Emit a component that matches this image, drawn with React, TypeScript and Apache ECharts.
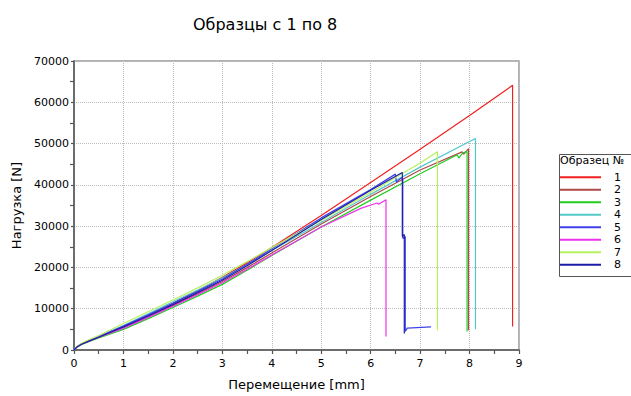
import React, { useEffect, useRef } from "react";
import * as echarts from "echarts";

const titleText = "Образцы с 1 по 8";
const xAxisName = "Перемещение [mm]";
const yAxisName = "Нагрузка [N]";
const legendTitle = "Образец №";

const sampleNames = ["1", "2", "3", "4", "5", "6", "7", "8"];
const sampleColors = ["#f22020", "#b04848", "#22cc22", "#55c8c8", "#4040e8", "#f030f0", "#b8f060", "#1c1ca8"];

const s1 = [[0,0],[0.05,700],[0.15,1500],[0.3,2300],[0.5,3300],[0.75,4500],[1,5700],[1.5,8450],[2,11300],[2.5,14350],[3,17600],[3.5,21100],[4,24800],[5,32600],[6,40600],[7,48600],[8,56800],[8.87,64100],[8.87,5700]];
const s2 = [[0,0],[0.05,650],[0.15,1400],[0.3,2200],[0.5,3100],[0.75,4250],[1,5400],[1.5,8050],[2,10800],[2.5,13650],[3,16600],[3.5,19950],[4,23500],[5,30500],[6,37200],[7,43600],[7.85,48000],[7.88,47400],[7.98,48800],[7.98,4800]];
const s3 = [[0,0],[0.05,600],[0.15,1300],[0.3,2000],[0.5,2900],[0.75,3950],[1,5000],[1.5,7600],[2,10300],[2.5,13050],[3,15900],[3.5,19300],[4,22900],[5,29800],[6,36300],[7,42700],[7.75,47300],[7.78,46500],[7.86,47700],[7.95,48100],[7.95,4500]];
const s4 = [[0,0],[0.05,700],[0.15,1500],[0.3,2300],[0.5,3300],[0.75,4600],[1,5900],[1.5,8750],[2,11700],[2.5,14550],[3,17500],[3.5,20700],[4,24100],[5,30900],[6,37700],[7,44300],[8,50500],[8.12,51200],[8.12,5000]];
const s5 = [[0,0],[0.05,650],[0.15,1450],[0.3,2200],[0.5,3200],[0.75,4500],[1,5800],[1.5,8500],[2,11300],[2.5,14200],[3,17200],[3.5,20750],[4,24500],[5,32000],[6,38900],[6.5,42600],[6.52,40700],[6.62,41700],[6.65,41400],[6.65,27000],[6.7,27500],[6.7,4500],[6.74,5300],[7.22,5600]];
const s6 = [[0,0],[0.05,650],[0.15,1400],[0.3,2150],[0.5,3100],[0.75,4200],[1,5300],[1.5,7900],[2,10600],[2.5,13400],[3,16300],[3.5,19550],[4,23000],[5,29800],[5.8,34300],[6.13,35600],[6.16,35300],[6.31,36400],[6.31,3300]];
const s7 = [[0,0],[0.05,750],[0.15,1600],[0.3,2450],[0.5,3500],[0.75,4950],[1,6400],[1.5,9250],[2,12100],[2.5,15050],[3,18100],[3.5,21400],[4,24800],[5,31400],[6,38200],[7,45300],[7.35,48000],[7.35,4800]];
const s8 = [[0,0],[0.05,650],[0.15,1400],[0.3,2150],[0.5,3100],[0.75,4350],[1,5600],[1.5,8250],[2,11000],[2.5,13900],[3,16900],[3.5,20400],[4,24100],[5,31600],[6,38700],[6.64,43000],[6.64,27500],[6.68,28000],[6.68,4000]];
const sampleData = [s1, s2, s3, s4, s5, s6, s7, s8];

const xMin = 0, xMax = 9, xInterval = 1;
const yMin = 0, yMax = 70000, yInterval = 10000;

const FONT = "DejaVu Sans";

export default function App() {
  const ref = useRef<HTMLDivElement>(null);
  useEffect(() => {
    if (!ref.current) return;
    const chart = echarts.init(ref.current, undefined, { renderer: "svg" });
    const axisCommon = {
      axisLine: { show: true, onZero: false, lineStyle: { color: "#555", width: 1.5 } },
      axisTick: { show: true, length: 4, lineStyle: { color: "#555", width: 1.2 } },
      minorTick: { show: true, splitNumber: 2, length: 4, lineStyle: { color: "#555", width: 1.2 } },
      splitLine: { show: true, lineStyle: { color: "#bdbdbd", type: "dotted", width: 1 } },
      axisLabel: { color: "#000", fontFamily: FONT, fontSize: 11, formatter: (v: number) => String(v) },
      nameTextStyle: { color: "#000", fontFamily: FONT, fontSize: 13 },
      nameLocation: "middle" as const,
    };
    chart.setOption({
      animation: false,
      backgroundColor: "#fff",
      title: {
        text: titleText,
        left: 188,
        top: 11,
        textStyle: { color: "#000", fontFamily: FONT, fontSize: 16, fontWeight: "normal" },
      },
      grid: {
        left: 74,
        right: 112,
        top: 61,
        bottom: 41,
        show: true,
        borderColor: "#999",
        borderWidth: 1.5,
        containLabel: false,
      },
      xAxis: {
        type: "value",
        min: xMin,
        max: xMax,
        interval: xInterval,
        name: xAxisName,
        nameGap: 28,
        ...axisCommon,
        axisLabel: { ...axisCommon.axisLabel, margin: 8 },
      },
      yAxis: {
        type: "value",
        min: yMin,
        max: yMax,
        interval: yInterval,
        name: yAxisName,
        nameGap: 47,
        nameRotate: 90,
        ...axisCommon,
        axisTick: { ...axisCommon.axisTick, length: 3 },
        axisLabel: { ...axisCommon.axisLabel, margin: 5 },
      },
      legend: {
        orient: "vertical",
        left: 560,
        top: 171,
        itemWidth: 41,
        itemHeight: 2,
        itemGap: 0,
        icon: "rect",
        padding: 0,
        textStyle: { color: "#000", fontFamily: FONT, fontSize: 11, lineHeight: 12.5, padding: [0, 0, 0, 8] },
        data: sampleNames,
      },
      graphic: [
        {
          type: "rect",
          left: 557,
          top: 152,
          shape: { width: 80, height: 122 },
          style: { fill: "none", stroke: "#555", lineWidth: 1 },
          silent: true,
        },
        {
          type: "text",
          left: 560,
          top: 155,
          style: { text: legendTitle, fill: "#000", font: `11px "${FONT}"` },
          silent: true,
        },
      ],
      series: sampleNames.map((n, i) => ({
        name: n,
        type: "line",
        data: sampleData[i],
        showSymbol: false,
        symbol: "none",
        color: sampleColors[i],
        lineStyle: { color: sampleColors[i], width: 1.2 },
        silent: true,
      })),
    });
    return () => chart.dispose();
  }, []);
  return <div ref={ref} style={{ width: 631, height: 396, position: "absolute", left: 0, top: 0 }} />;
}
